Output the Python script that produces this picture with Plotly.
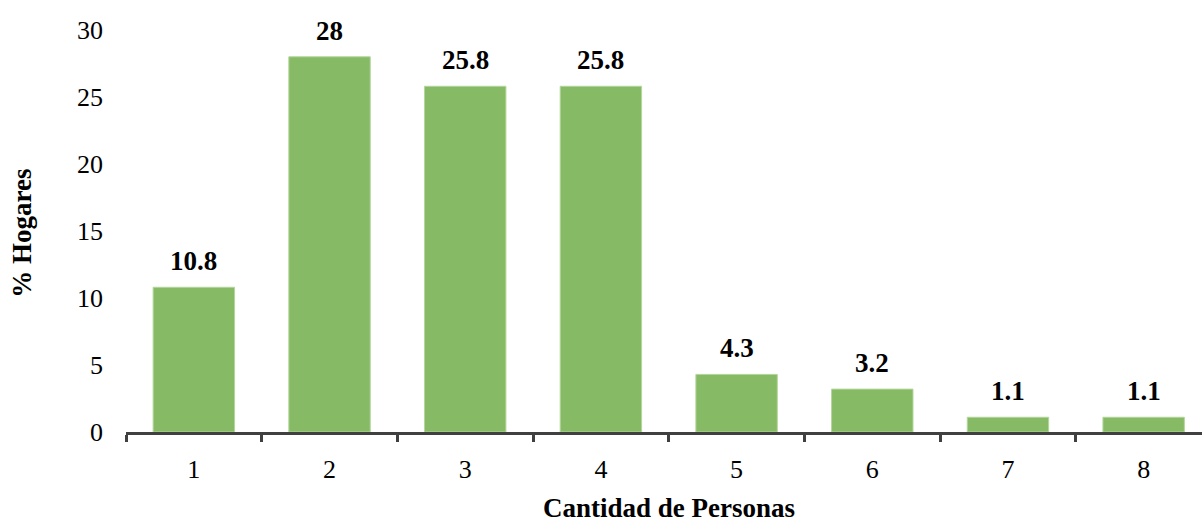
import plotly.graph_objects as go

personas = [1, 2, 3, 4, 5, 6, 7, 8]
hogares_pct = [10.8, 28, 25.8, 25.8, 4.3, 3.2, 1.1, 1.1]
y_ticks = [0, 5, 10, 15, 20, 25, 30]

FONT = "Liberation Serif"
BAR = "#86BA65"
AXIS = "#404040"

fig = go.Figure()
fig.add_trace(go.Bar(
    x=personas,
    y=hogares_pct,
    marker=dict(color=BAR, line=dict(color="#B3D69C", width=1)),
    width=0.6,
    hoverinfo="x+y",
))

for xv, yv in zip(personas, hogares_pct):
    fig.add_annotation(
        x=xv, y=yv, text=f"<b>{yv:g}</b>", showarrow=False,
        yanchor="bottom", yshift=9,
        font=dict(family=FONT, size=27, color="#000000"),
    )

fig.add_annotation(
    xref="paper", yref="paper", x=0.505, y=-0.188, yanchor="middle",
    text="<b>Cantidad de Personas</b>", showarrow=False,
    font=dict(family=FONT, size=27, color="#000000"),
)
fig.add_annotation(
    xref="paper", yref="paper", x=-0.097, y=0.495, xanchor="center",
    text="<b>% Hogares</b>", showarrow=False, textangle=-90,
    font=dict(family=FONT, size=27, color="#000000"),
)

fig.update_layout(
    width=1202, height=523,
    margin=dict(l=126, r=0, t=30, b=91),
    paper_bgcolor="white", plot_bgcolor="white",
    showlegend=False,
    font=dict(family=FONT, size=26, color="#000000"),
    xaxis=dict(
        range=[0.5, 8.43],
        tickvals=personas,
        ticks="",
        showgrid=False, zeroline=False,
        showline=True, linecolor=AXIS, linewidth=3,
        ticklabelstandoff=12,
        minor=dict(tickvals=[0.5, 1.5, 2.5, 3.5, 4.5, 5.5, 6.5, 7.5, 8.5],
                   ticks="outside", ticklen=7, tickwidth=3, tickcolor=AXIS),
    ),
    yaxis=dict(
        range=[0, 30],
        tickvals=y_ticks,
        showgrid=False, zeroline=False, showline=False,
        ticks="", ticklabelstandoff=22,
    ),
)

fig.write_html("out.html")
